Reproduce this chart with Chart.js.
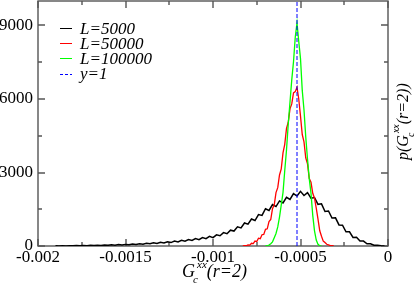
<!DOCTYPE html>
<html>
<head>
<meta charset="utf-8">
<script src="https://cdn.jsdelivr.net/npm/chart.js@4.4.1/dist/chart.umd.min.js"></script>
<style>
html, body { margin: 0; padding: 0; background: #fff; }
</style>
</head>
<body>
<canvas id="chart" width="415" height="289"></canvas>
<script>
// series names (legend)
const seriesNames = ['L=5000', 'L=50000', 'L=100000', 'y=1'];

// L=5000 : histogram, bins every 0.00002 starting at -0.0019
const blackStart = -0.0019, blackStep = 0.00002;
const blackValues = [6, 2, 12, 4, 14, 8, 18, 10, 22, 12, 26, 16, 34, 22, 40, 28, 46, 34, 58, 40,
  66, 50, 80, 60, 92, 70, 110, 88, 130, 100, 150, 120, 176, 140, 200, 166, 232, 196, 264, 226,
  300, 258, 346, 300, 392, 340, 456, 420, 548, 500, 646, 610, 780, 740, 940, 890, 1100, 1040, 1280, 1250,
  1520, 1450, 1690, 1610, 1840, 1760, 1990, 1900, 2140, 2040, 2230, 2060, 2180, 1950, 1980, 1700, 1720, 1410, 1430, 1140,
  1150, 860, 850, 580, 580, 350, 360, 200, 200, 90, 90, 30, 34, 6, 4];

// L=50000 : bins every 0.00001 starting at -0.00083
const redStart = -0.00083, redStep = 0.00001;
const redValues = [5, 15, 10, 45, 35, 110, 100, 200, 180, 320, 300, 460, 470, 680, 700, 1000, 1080, 1520, 1680, 2180,
  2380, 2900, 3150, 3800, 4150, 4800, 5050, 5600, 5800, 6250, 6300, 6480, 6000, 5300, 4550, 4250, 3600, 3350, 2750, 2600,
  2150, 1950, 1550, 1100, 620, 400, 200, 140, 70, 50, 15, 12, 0];

// L=100000 : bins every 0.00001 starting at -0.00070
const greenStart = -0.0007, greenStep = 0.00001;
const greenValues = [0, 10, 40, 90, 170, 340, 510, 780, 1180, 1680, 2180, 3080, 3920, 4980, 5880, 6780, 7520, 8520, 9100, 8350,
  7650, 6350, 5550, 4450, 3550, 2750, 2150, 1250, 620, 240, 70, 10, 0];

// y=1 marker
const markerX = -0.00052;
const markerY = [0, 10000];

// axes
const xTicks = [-0.002, -0.0015, -0.001, -0.0005, 0];
const yTicks = [0, 3000, 6000, 9000];

function toPoints(start, step, vals) {
  return vals.map((v, i) => ({ x: start + i * step, y: v }));
}

const colors = ['#000000', '#ff0000', '#00ff00', '#0000ff'];
const serif = '"Liberation Serif", "DejaVu Serif", serif';

const decor = {
  id: 'decor',
  beforeDatasetsDraw(chart) {
    const { ctx, chartArea: a, scales } = chart;
    ctx.save();
    ctx.strokeStyle = '#555';
    ctx.lineWidth = 1.4;
    ctx.strokeRect(a.left, a.top, a.right - a.left, a.bottom - a.top);
    ctx.beginPath();
    for (let v = -0.002; v <= 0.0000001; v += 0.00025) {
      const px = Math.round(scales.x.getPixelForValue(v));
      const major = Math.abs(Math.round(v / 0.0005) * 0.0005 - v) < 1e-9;
      const len = major ? 7 : 4;
      ctx.moveTo(px, a.bottom); ctx.lineTo(px, a.bottom - len);
      ctx.moveTo(px, a.top); ctx.lineTo(px, a.top + len);
    }
    for (let v = 0; v <= 10000; v += 1500) {
      const py = Math.round(scales.y.getPixelForValue(v));
      const major = v % 3000 === 0;
      const len = major ? 7 : 4;
      ctx.moveTo(a.left, py); ctx.lineTo(a.left + len, py);
      ctx.moveTo(a.right, py); ctx.lineTo(a.right - len, py);
    }
    ctx.stroke();
    ctx.restore();
  },
  afterDraw(chart) {
    const { ctx } = chart;
    ctx.save();
    // legend
    const lineY = [28, 43, 58, 74];
    const baseY = [33.5, 48.5, 63.5, 79];
    ctx.font = 'italic 17px ' + serif;
    ctx.textBaseline = 'alphabetic';
    ctx.fillStyle = '#000';
    for (let i = 0; i < seriesNames.length; i++) {
      ctx.strokeStyle = colors[i];
      ctx.lineWidth = 1;
      ctx.setLineDash(i === 3 ? [3, 2] : []);
      ctx.beginPath();
      ctx.moveTo(60, lineY[i] + 0.5); ctx.lineTo(72, lineY[i] + 0.5);
      ctx.stroke();
      ctx.fillText(seriesNames[i], 80, baseY[i]);
    }
    ctx.setLineDash([]);

    // x axis title
    function label(x, y, big, small) {
      ctx.font = 'italic ' + big + 'px ' + serif;
      ctx.fillText('G', x, y);
      let w = ctx.measureText('G').width - 2;
      ctx.font = 'italic ' + small + 'px ' + serif;
      ctx.fillText('c', x + w, y + 6);
      ctx.fillText('xx', x + w + 4, y - 9);
      const w2 = ctx.measureText('xx').width;
      ctx.font = 'italic ' + big + 'px ' + serif;
      ctx.fillText('(r=2)', x + w + 4 + w2, y);
      return x + w + 4 + w2 + ctx.measureText('(r=2)').width;
    }
    label(182, 277, 18, 11);

    // right y title
    ctx.translate(408, 160);
    ctx.rotate(-Math.PI / 2);
    ctx.font = 'italic 16px ' + serif;
    ctx.fillText('p(', 0, 0);
    const pw = ctx.measureText('p(').width;
    const end = label(pw, 0, 16, 10);
    ctx.font = 'italic 16px ' + serif;
    ctx.fillText(')', end, 0);
    ctx.restore();
  }
};

new Chart(document.getElementById('chart'), {
  type: 'scatter',
  data: {
    datasets: [
      { label: seriesNames[0], data: toPoints(blackStart, blackStep, blackValues), borderColor: colors[0], borderWidth: 1.5, order: 3 },
      { label: seriesNames[1], data: toPoints(redStart, redStep, redValues), borderColor: colors[1], borderWidth: 1.3, order: 2 },
      { label: seriesNames[2], data: toPoints(greenStart, greenStep, greenValues), borderColor: colors[2], borderWidth: 1.3, order: 1 },
      { label: seriesNames[3], data: markerY.map(v => ({ x: markerX, y: v })), borderColor: colors[3], borderWidth: 1, borderDash: [4, 2], order: 0 }
    ].map(d => Object.assign(d, { showLine: true, pointRadius: 0, fill: false, tension: 0 }))
  },
  options: {
    responsive: false,
    animation: false,
    layout: { autoPadding: false, padding: { left: 0, right: 27, top: 1, bottom: 0 } },
    plugins: { legend: { display: false }, tooltip: { enabled: false } },
    scales: {
      x: {
        type: 'linear', min: -0.002, max: 0,
        grid: { display: false, drawTicks: false }, border: { display: false },
        afterBuildTicks: s => { s.ticks = xTicks.map(v => ({ value: v })); },
        afterFit: s => { s.height = 43; s.paddingLeft = 0; s.paddingRight = 0; },
        ticks: {
          padding: 1, color: '#000', maxRotation: 0, autoSkip: false,
          font: { family: serif, size: 17 },
          callback: v => String(Number(v.toFixed(6)))
        }
      },
      y: {
        type: 'linear', min: 0, max: 10000,
        grid: { display: false, drawTicks: false }, border: { display: false },
        afterBuildTicks: s => { s.ticks = yTicks.map(v => ({ value: v })); },
        afterFit: s => { s.width = 38; s.paddingTop = 0; s.paddingBottom = 0; },
        ticks: {
          padding: 5, color: '#000', autoSkip: false,
          font: { family: serif, size: 17 },
          callback: v => String(v)
        }
      }
    }
  },
  plugins: [decor]
});
</script>
</body>
</html>
